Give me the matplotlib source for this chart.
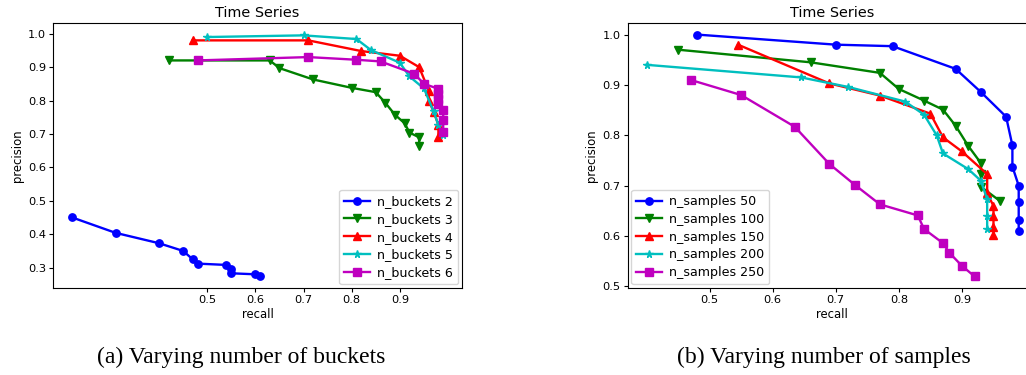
import matplotlib
matplotlib.use("Agg")
import matplotlib.pyplot as plt

# (a) varying number of buckets
buckets_labels = ["n_buckets 2", "n_buckets 3", "n_buckets 4", "n_buckets 5", "n_buckets 6"]
buckets_recall = [
    [0.22, 0.31, 0.40, 0.45, 0.47, 0.48, 0.54, 0.55, 0.55, 0.60, 0.61],
    [0.42, 0.63, 0.65, 0.72, 0.80, 0.85, 0.87, 0.89, 0.91, 0.92, 0.94, 0.94],
    [0.47, 0.71, 0.82, 0.90, 0.94, 0.96, 0.96, 0.97, 0.98, 0.98],
    [0.50, 0.70, 0.81, 0.84, 0.90, 0.92, 0.95, 0.97, 0.98, 0.99],
    [0.48, 0.71, 0.81, 0.86, 0.93, 0.95, 0.98, 0.98, 0.98, 0.98, 0.99, 0.99, 0.99],
]
buckets_precision = [
    [0.45, 0.404, 0.373, 0.35, 0.325, 0.312, 0.308, 0.297, 0.283, 0.28, 0.275],
    [0.92, 0.92, 0.897, 0.863, 0.838, 0.825, 0.793, 0.757, 0.732, 0.704, 0.69, 0.664],
    [0.98, 0.98, 0.948, 0.934, 0.90, 0.83, 0.80, 0.767, 0.727, 0.692],
    [0.99, 0.995, 0.984, 0.951, 0.913, 0.872, 0.836, 0.768, 0.727, 0.697],
    [0.92, 0.93, 0.922, 0.917, 0.88, 0.85, 0.835, 0.82, 0.805, 0.79, 0.772, 0.742, 0.707],
]

# (b) varying number of samples
samples_labels = ["n_samples 50", "n_samples 100", "n_samples 150", "n_samples 200", "n_samples 250"]
samples_recall = [
    [0.48, 0.70, 0.79, 0.89, 0.93, 0.97, 0.98, 0.98, 0.99, 0.99, 0.99, 0.99],
    [0.45, 0.66, 0.77, 0.80, 0.84, 0.87, 0.89, 0.91, 0.93, 0.93, 0.93, 0.96],
    [0.545, 0.69, 0.77, 0.85, 0.87, 0.90, 0.94, 0.94, 0.95, 0.95, 0.95, 0.95],
    [0.40, 0.645, 0.72, 0.81, 0.84, 0.86, 0.87, 0.91, 0.93, 0.94, 0.94, 0.94],
    [0.47, 0.55, 0.635, 0.69, 0.73, 0.77, 0.83, 0.84, 0.87, 0.88, 0.90, 0.92],
]
samples_precision = [
    [1.0, 0.98, 0.977, 0.932, 0.886, 0.837, 0.78, 0.738, 0.70, 0.667, 0.631, 0.611],
    [0.97, 0.945, 0.924, 0.892, 0.869, 0.851, 0.819, 0.779, 0.745, 0.723, 0.698, 0.67],
    [0.98, 0.903, 0.879, 0.843, 0.796, 0.768, 0.723, 0.685, 0.66, 0.639, 0.619, 0.603],
    [0.94, 0.915, 0.896, 0.867, 0.841, 0.80, 0.764, 0.733, 0.71, 0.673, 0.639, 0.614],
    [0.91, 0.88, 0.817, 0.743, 0.702, 0.663, 0.641, 0.614, 0.586, 0.567, 0.541, 0.52],
]

styles = [("b", "o"), ("g", "v"), ("r", "^"), ("c", "*"), ("m", "s")]
xticks = [0.5, 0.6, 0.7, 0.8, 0.9]

W, H = 1026, 375
fig = plt.figure(figsize=(W / 100, H / 100), dpi=100)


def draw(ax, recalls, precisions, labels, legend_loc):
    for (col, mk), r, p, lab in zip(styles, recalls, precisions, labels):
        ax.plot(r, p, color=col, marker=mk, markersize=5.3, linewidth=1.7, label=lab)
    ax.set_title("Time Series", fontsize=10.4, pad=4)
    ax.set_xlabel("recall", fontsize=8.4, labelpad=2)
    ax.set_ylabel("precision", fontsize=8.4, labelpad=3)
    ax.set_xticks(xticks)
    ax.tick_params(labelsize=8.2, length=3, pad=2)
    ax.legend(loc=legend_loc, fontsize=9.1, handlelength=2.0, borderpad=0.4,
              labelspacing=0.38, handletextpad=0.6, borderaxespad=0.3)


ax1 = fig.add_axes([53 / W, 1 - 288 / H, 409 / W, 265 / H])
draw(ax1, buckets_recall, buckets_precision, buckets_labels, "lower right")
ax1.set_xlim(0.18, 1.029)
ax1.set_ylim(0.239, 1.032)

ax2 = fig.add_axes([627.6 / W, 1 - 288 / H, 409.4 / W, 265 / H])
draw(ax2, samples_recall, samples_precision, samples_labels, "lower left")
ax2.set_xlim(0.37, 1.019)
ax2.set_ylim(0.497, 1.023)

fig.text(241 / W, 1 - 357 / H, "(a) Varying number of buckets", ha="center", va="center",
         fontsize=17, family="Liberation Serif")
fig.text(824 / W, 1 - 357 / H, "(b) Varying number of samples", ha="center", va="center",
         fontsize=17, family="Liberation Serif")

fig.savefig("out.png", dpi=100)
